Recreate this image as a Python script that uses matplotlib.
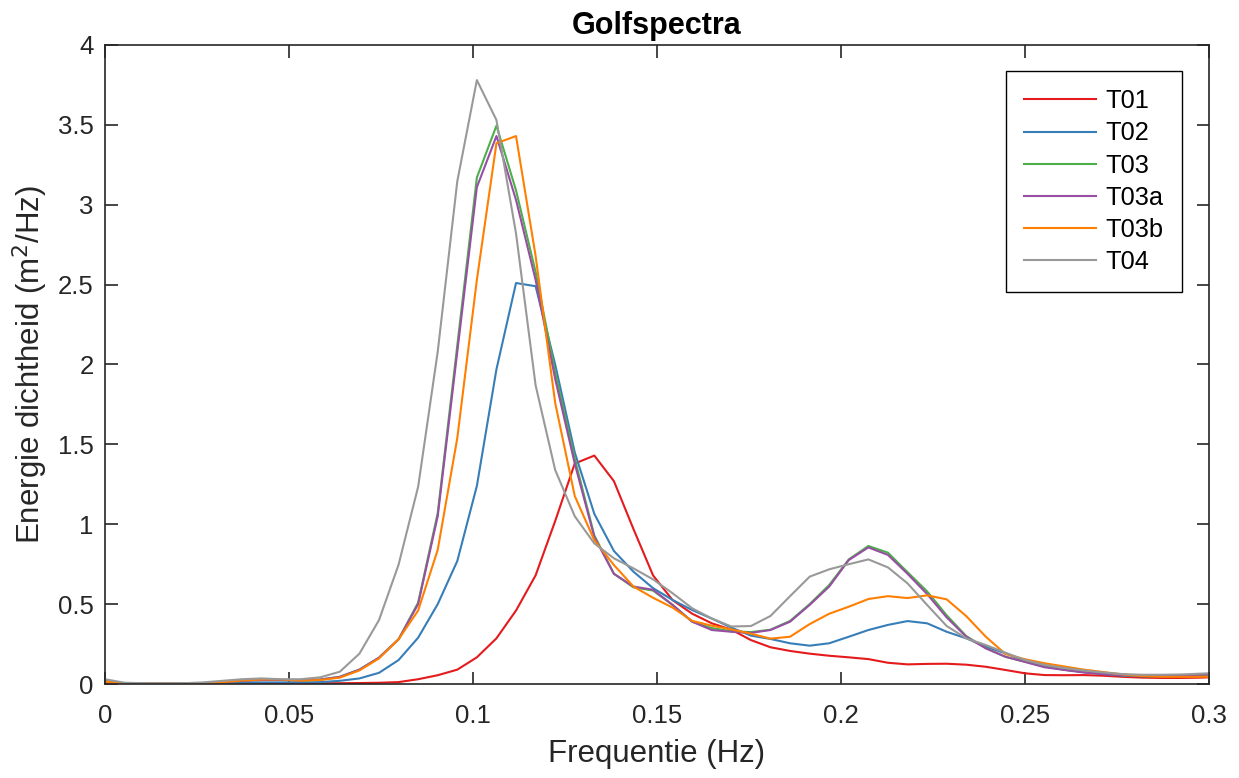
import matplotlib
matplotlib.use('Agg')
import numpy as np
import matplotlib.pyplot as plt

plt.rcParams['font.family'] = ['Liberation Sans', 'DejaVu Sans']

# Frequentie-raster (Hz): stap van ongeveer 1/188 Hz
df = 0.005319
n_punten = 58

t01 = [0.01, 0.004, 0.003, 0.003, 0.003, 0.003, 0.004, 0.005, 0.005, 0.005,
       0.005, 0.005, 0.005, 0.006, 0.008, 0.012, 0.03, 0.055, 0.09, 0.167,
       0.286, 0.46, 0.68, 1.02, 1.38, 1.43, 1.27, 0.97, 0.68, 0.525,
       0.44, 0.38, 0.34, 0.275, 0.23, 0.207, 0.19, 0.177, 0.167, 0.156,
       0.133, 0.123, 0.126, 0.127, 0.121, 0.108, 0.088, 0.067, 0.056, 0.055,
       0.056, 0.052, 0.045, 0.04, 0.038, 0.038, 0.04, 0.045]
t02 = [0.02, 0.003, 0.003, 0.003, 0.003, 0.003, 0.006, 0.008, 0.01, 0.01,
       0.01, 0.012, 0.02, 0.035, 0.07, 0.15, 0.29, 0.50, 0.77, 1.24,
       1.97, 2.51, 2.49, 2.0, 1.45, 1.065, 0.833, 0.703, 0.6, 0.526,
       0.463, 0.41, 0.353, 0.303, 0.282, 0.255, 0.24, 0.255, 0.296, 0.338,
       0.37, 0.394, 0.38, 0.327, 0.286, 0.234, 0.192, 0.145, 0.11, 0.09,
       0.075, 0.062, 0.052, 0.048, 0.048, 0.05, 0.052, 0.055]
t03 = [0.015, 0.003, 0.003, 0.003, 0.003, 0.003, 0.01, 0.02, 0.025, 0.025,
       0.022, 0.028, 0.045, 0.09, 0.165, 0.28, 0.51, 1.07, 2.12, 3.17,
       3.495, 3.09, 2.58, 1.95, 1.41, 0.93, 0.69, 0.605, 0.585, 0.495,
       0.39, 0.35, 0.33, 0.325, 0.34, 0.395, 0.5, 0.62, 0.78, 0.864,
       0.822, 0.70, 0.58, 0.43, 0.30, 0.225, 0.17, 0.14, 0.11, 0.09,
       0.075, 0.065, 0.055, 0.05, 0.05, 0.052, 0.055, 0.06]
t03a = [0.015, 0.003, 0.003, 0.003, 0.003, 0.003, 0.01, 0.02, 0.025, 0.025,
        0.022, 0.028, 0.045, 0.09, 0.165, 0.28, 0.50, 1.05, 2.08, 3.11,
        3.43, 3.03, 2.53, 1.91, 1.38, 0.92, 0.69, 0.61, 0.59, 0.495,
        0.39, 0.338, 0.327, 0.32, 0.338, 0.39, 0.495, 0.61, 0.776, 0.855,
        0.808, 0.69, 0.563, 0.417, 0.296, 0.223, 0.171, 0.138, 0.105, 0.088,
        0.072, 0.062, 0.055, 0.052, 0.052, 0.055, 0.058, 0.062]
t03b = [0.015, 0.003, 0.003, 0.003, 0.003, 0.003, 0.012, 0.022, 0.028, 0.028,
        0.022, 0.025, 0.04, 0.085, 0.16, 0.28, 0.46, 0.84, 1.54, 2.53,
        3.385, 3.43, 2.68, 1.76, 1.177, 0.90, 0.745, 0.61, 0.54, 0.478,
        0.395, 0.365, 0.342, 0.315, 0.284, 0.296, 0.375, 0.44, 0.484, 0.532,
        0.55, 0.538, 0.555, 0.53, 0.425, 0.296, 0.188, 0.155, 0.13, 0.11,
        0.09, 0.075, 0.06, 0.05, 0.045, 0.045, 0.045, 0.046]
t04 = [0.03, 0.008, 0.005, 0.005, 0.005, 0.01, 0.02, 0.03, 0.035, 0.03,
       0.03, 0.042, 0.077, 0.19, 0.40, 0.747, 1.235, 2.08, 3.147, 3.78,
       3.53, 2.82, 1.87, 1.34, 1.05, 0.88, 0.787, 0.724, 0.655, 0.568,
       0.474, 0.41, 0.36, 0.363, 0.426, 0.55, 0.672, 0.718, 0.75, 0.78,
       0.73, 0.63, 0.495, 0.363, 0.286, 0.244, 0.196, 0.15, 0.12, 0.1,
       0.085, 0.072, 0.062, 0.058, 0.058, 0.06, 0.065, 0.07]

namen = ['T01', 'T02', 'T03', 'T03a', 'T03b', 'T04']
kleuren = ['#e41a1c', '#377eb8', '#4daf4a', '#984ea3', '#ff7f00', '#999999']
reeksen = [t01, t02, t03, t03a, t03b, t04]

f = np.arange(n_punten) * df

fig = plt.figure(figsize=(12.39, 7.78), dpi=100)
ax = fig.add_axes([0.0847, 0.1208, 0.8911, 0.8214])

for naam, kleur, s in zip(namen, kleuren, reeksen):
    ax.plot(f, s, color=kleur, lw=1.5, label=naam)

ax.set_xlim(0, 0.3)
ax.set_ylim(0, 4)
ax.set_xticks(np.arange(0, 0.301, 0.05))
ax.set_yticks(np.arange(0, 4.01, 0.5))
ax.set_xticklabels(['0', '0.05', '0.1', '0.15', '0.2', '0.25', '0.3'])
ax.set_yticklabels(['0', '0.5', '1', '1.5', '2', '2.5', '3', '3.5', '4'])
ax.tick_params(direction='in', length=9, width=1.2, labelsize=18.5,
               top=True, right=True, colors='#262626', labelcolor='#262626')
ax.tick_params(axis='x', pad=14.5)
ax.tick_params(axis='y', pad=8)
for sp in ax.spines.values():
    sp.set_color('#262626')
    sp.set_linewidth(1.2)

ax.set_xlabel('Frequentie (Hz)', fontsize=22.5, color='#262626', labelpad=8)
ax.set_ylabel('Energie dichtheid (m$^2$/Hz)', fontsize=22.5, color='#262626',
              labelpad=6)
ax.set_title('Golfspectra', fontsize=22, fontweight='bold', pad=8)

leg = ax.legend(loc='upper right', bbox_to_anchor=(0.9755, 0.9593), fontsize=18.3,
                fancybox=False, framealpha=1, edgecolor='black',
                handlelength=2.85, handletextpad=0.36, labelspacing=0.32,
                borderpad=0.72, borderaxespad=0)
leg.get_frame().set_linewidth(1.0)

fig.savefig('out.png', dpi=100)
